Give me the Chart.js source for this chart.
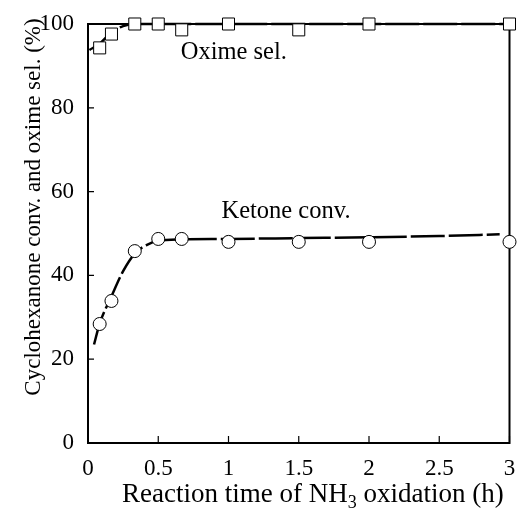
<!DOCTYPE html>
<html>
<head>
<meta charset="utf-8">
<script src="https://cdn.jsdelivr.net/npm/chart.js@4.4.0/dist/chart.umd.min.js"></script>
<style>
  html, body { margin: 0; padding: 0; background: #fff; }
  #wrap { width: 519px; height: 509px; }
</style>
</head>
<body>
<div id="wrap"><canvas id="chart" width="519" height="509"></canvas></div>
<script>
// measured points
const time_h = [0.083, 0.167, 0.333, 0.5, 0.667, 1, 1.5, 2, 3];
const oxime_sel = [94.3, 97.6, 100, 100, 98.6, 100, 98.6, 100, 100];
const ketone_conv = [28.4, 33.9, 45.8, 48.7, 48.7, 48.0, 48.0, 48.0, 48.0];

// dashed guide curves
const oxime_fit_x = [0.01, 0.083, 0.167, 0.25, 0.333, 0.5, 1, 2, 3];
const oxime_fit_y = [93.8, 95.3, 98, 99.5, 100, 100, 100, 100, 100];
const ketone_fit_x = [0.043, 0.083, 0.167, 0.25, 0.333, 0.42, 0.5, 0.667, 1, 1.5, 2, 2.5, 2.93];
const ketone_fit_y = [23.5, 28.5, 35, 41, 45.2, 47.3, 48.3, 48.6, 48.7, 48.9, 49.1, 49.4, 49.8];

const x_ticks = [0, 0.5, 1, 1.5, 2, 2.5, 3];
const y_ticks = [0, 20, 40, 60, 80, 100];

const serif = "'Liberation Serif', 'DejaVu Serif', serif";

const pts = (xs, ys) => xs.map((x, i) => ({ x: x, y: ys[i] }));

// frame, inward ticks, titles and labels
const decor = {
    id: "decor",
    beforeDatasetsDraw(chart) {
        const ctx = chart.ctx;
        const a = chart.chartArea;
        const xs = chart.scales.x;
        const ys = chart.scales.y;
        ctx.save();
        ctx.strokeStyle = "#000";
        ctx.lineWidth = 2;
        ctx.strokeRect(a.left, a.top, a.right - a.left, a.bottom - a.top);
        ctx.lineWidth = 1.2;
        ctx.beginPath();
        x_ticks.forEach((v) => {
            const px = xs.getPixelForValue(v);
            ctx.moveTo(px, a.bottom);
            ctx.lineTo(px, a.bottom - 7);
        });
        y_ticks.forEach((v) => {
            const py = ys.getPixelForValue(v);
            ctx.moveTo(a.left, py);
            ctx.lineTo(a.left + 6, py);
        });
        ctx.stroke();
        ctx.restore();
    },
    afterDraw(chart) {
        const ctx = chart.ctx;
        const xs = chart.scales.x;
        const ys = chart.scales.y;
        ctx.save();
        ctx.fillStyle = "#000";
        ctx.textBaseline = "alphabetic";

        // annotations
        ctx.font = "24.5px " + serif;
        ctx.textAlign = "left";
        ctx.fillText("Oxime sel.", xs.getPixelForValue(0.66), ys.getPixelForValue(91.6));
        ctx.fillText("Ketone conv.", xs.getPixelForValue(0.95), ys.getPixelForValue(53.7));

        // x title with subscript
        const big = "27px " + serif;
        const small = "18px " + serif;
        const p1 = "Reaction time of NH";
        const p2 = "3";
        const p3 = " oxidation (h)";
        let x0 = 122;
        const base = 502;
        ctx.font = big;
        const w1 = ctx.measureText(p1).width;
        ctx.fillText(p1, x0, base);
        ctx.font = small;
        const w2 = ctx.measureText(p2).width;
        ctx.fillText(p2, x0 + w1, base + 6);
        ctx.font = big;
        ctx.fillText(p3, x0 + w1 + w2, base);

        // y title
        ctx.translate(40, 207);
        ctx.rotate(-Math.PI / 2);
        ctx.textAlign = "center";
        ctx.font = "23px " + serif;
        ctx.fillText("Cyclohexanone conv. and oxime sel. (%)", 0, 0);
        ctx.restore();
    }
};

const chart = new Chart(document.getElementById("chart"), {
    type: "scatter",
    data: {
        datasets: [
            {
                label: "Oxime sel.",
                data: pts(time_h, oxime_sel),
                pointStyle: "rect",
                pointRadius: 8.5,
                pointBackgroundColor: "#fff",
                pointBorderColor: "#000",
                pointBorderWidth: 1,
                showLine: false,
                clip: false,
                order: 0
            },
            {
                label: "Ketone conv.",
                data: pts(time_h, ketone_conv),
                pointStyle: "circle",
                pointRadius: 6.5,
                pointBackgroundColor: "#fff",
                pointBorderColor: "#000",
                pointBorderWidth: 1,
                showLine: false,
                clip: false,
                order: 0
            },
            {
                label: "oxime fit",
                data: pts(oxime_fit_x, oxime_fit_y),
                showLine: true,
                pointRadius: 0,
                borderColor: "#000",
                borderWidth: 2.5,
                borderDash: [34, 4],
                cubicInterpolationMode: "monotone",
                clip: false,
                order: 1
            },
            {
                label: "ketone fit",
                data: pts(ketone_fit_x, ketone_fit_y),
                showLine: true,
                pointRadius: 0,
                borderColor: "#000",
                borderWidth: 2.5,
                borderDash: [34, 4],
                cubicInterpolationMode: "monotone",
                clip: false,
                order: 1
            }
        ]
    },
    options: {
        responsive: false,
        animation: false,
        layout: { padding: { top: 24, right: 9, left: 0, bottom: 0 } },
        plugins: {
            legend: { display: false },
            tooltip: { enabled: false }
        },
        scales: {
            x: {
                type: "linear",
                min: 0,
                max: 3,
                afterFit: (s) => { s.height = 66; s.paddingLeft = 0; s.paddingRight = 0; },
                afterBuildTicks: (s) => { s.ticks = x_ticks.map((v) => ({ value: v })); },
                grid: { display: false, drawTicks: false },
                border: { display: false },
                ticks: {
                    color: "#000",
                    padding: 12,
                    font: { family: serif, size: 23 },
                    maxRotation: 0,
                    callback: (v) => String(v)
                }
            },
            y: {
                min: 0,
                max: 100,
                afterFit: (s) => { s.width = 88; s.paddingTop = 0; s.paddingBottom = 0; },
                afterBuildTicks: (s) => { s.ticks = y_ticks.map((v) => ({ value: v })); },
                grid: { display: false, drawTicks: false },
                border: { display: false },
                ticks: {
                    color: "#000",
                    padding: 14,
                    font: { family: serif, size: 23 },
                    callback: (v) => String(v)
                }
            }
        }
    },
    plugins: [decor]
});
</script>
</body>
</html>
